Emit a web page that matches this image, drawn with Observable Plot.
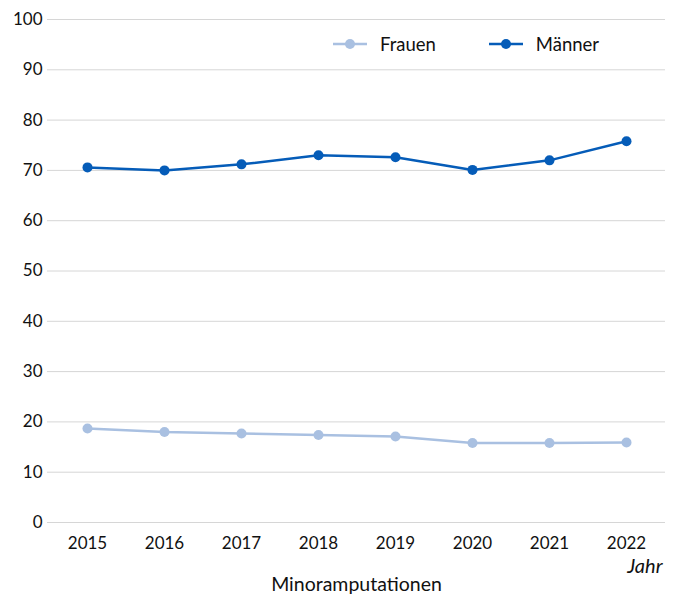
<!DOCTYPE html>
<html><head><meta charset="utf-8">
<script src="https://cdn.jsdelivr.net/npm/d3@7"></script>
<script src="https://cdn.jsdelivr.net/npm/@observablehq/plot@0.6"></script>
<style>
body{margin:0;background:#fff;font-family:Lato,"Open Sans",sans-serif;}
#wrap{position:relative;width:678px;height:599px;}
#legend{position:absolute;top:33px;left:333px;display:flex;gap:0;font-size:18.5px;color:#111;}
.item{display:flex;align-items:center;margin-right:53px;}
.item svg{margin-right:13px;}
</style></head>
<body><div id="wrap"><div id="legend"></div></div>
<script>
const years = ["2015","2016","2017","2018","2019","2020","2021","2022"];
const frauen = [18.7, 18.0, 17.7, 17.4, 17.1, 15.8, 15.8, 15.9];
const maenner = [70.6, 70.0, 71.2, 73.0, 72.6, 70.1, 72.0, 75.8];
const seriesNames = ["Frauen", "Männer"];
const colors = ["#a9c0e1", "#055cb8"];
const yTicks = [0,10,20,30,40,50,60,70,80,90,100];

const data = [];
years.forEach((y,i)=>{
  data.push({year:y, value:frauen[i], series:"Frauen"});
  data.push({year:y, value:maenner[i], series:"Männer"});
});

const chart = Plot.plot({
  width: 678, height: 599,
  marginLeft: 47, marginRight: 13, marginTop: 19, marginBottom: 77,
  style: {fontFamily: "Lato, 'Open Sans', sans-serif", fontSize: "17px", color: "#111", background: "#fff"},
  x: {type: "point", domain: years, padding: 0.5, label: null, tickSize: 0, tickPadding: 14},
  y: {domain: [0,100], ticks: yTicks, label: null, tickSize: 0, tickPadding: 5},
  color: {domain: seriesNames, range: colors},
  marks: [
    Plot.ruleY(yTicks, {stroke: "#d6d6d6", strokeWidth: 1}),
    Plot.line(data, {x: "year", y: "value", z: "series", stroke: "series", strokeWidth: 2.5}),
    Plot.dot(data, {x: "year", y: "value", fill: "series", r: 5}),
    Plot.text(["Jahr"], {frameAnchor: "bottom-right", dy: 50, dx: -3, fontStyle: "italic", fontSize: 20, textAnchor: "end"}),
    Plot.text(["Minoramputationen"], {frameAnchor: "bottom", dy: 68, fontSize: 19.5})
  ]
});
document.getElementById("wrap").prepend(chart);
chart.style.display = "block";

const legend = document.getElementById("legend");
seriesNames.forEach((n,i)=>{
  const it = document.createElement("div");
  it.className = "item";
  it.innerHTML = `<svg width="34" height="12"><line x1="0" y1="6" x2="34" y2="6" stroke="${colors[i]}" stroke-width="2.5"/><circle cx="17" cy="6" r="5" fill="${colors[i]}"/></svg><span>${n}</span>`;
  legend.appendChild(it);
});
</script></body></html>
